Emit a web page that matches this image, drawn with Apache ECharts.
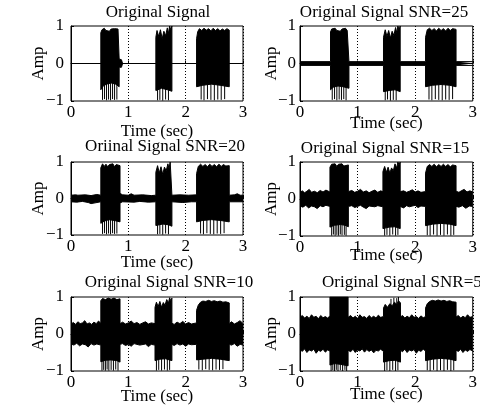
<!DOCTYPE html>
<html><head><meta charset="utf-8">
<script src="https://cdn.jsdelivr.net/npm/echarts@6/dist/echarts.min.js"></script>
<style>html,body{margin:0;padding:0;background:#fff}#c{width:480px;height:406px}</style>
</head><body><div id="c"></div>
<script>
const xTicks = [0, 1, 2, 3];
const yTicks = [-1, 0, 1];
const titles = ["Original Signal", "Original Signal SNR=25", "Oriinal Signal SNR=20", "Original Signal SNR=15", "Original Signal SNR=10", "Original Signal SNR=5"];
const xName = "Time (sec)";
const yName = "Amp";

// Panel 1: clean signal (upper / lower envelope, bottom spikes)
const upper1 = [[0,0],[0.52,0],[0.52,0.82],[0.54,0.9],[0.56,0.86],[0.58,0.94],[0.61,0.88],[0.64,0.93],[0.67,0.86],[0.70,0.92],[0.73,0.87],[0.76,0.93],[0.79,0.88],[0.82,0.92],[0.84,0.9],[0.84,0.12],[0.88,0.1],[0.9,0],[1.48,0],[1.48,0.7],[1.5,0.88],[1.53,0.72],[1.56,0.9],[1.59,0.66],[1.62,0.86],[1.65,0.74],[1.68,0.95],[1.7,0.8],[1.72,1.0],[1.74,0.9],[1.76,1.0],[1.76,0],[2.19,0],[2.19,0.66],[2.21,0.85],[2.24,0.93],[2.28,0.88],[2.32,0.94],[2.36,0.89],[2.40,0.93],[2.44,0.87],[2.48,0.94],[2.52,0.88],[2.56,0.93],[2.60,0.87],[2.64,0.92],[2.68,0.88],[2.72,0.93],[2.76,0.89],[2.76,0],[3,0]];
const lower1 = [[0,0],[0.52,0],[0.52,-0.7],[0.56,-0.6],[0.62,-0.55],[0.7,-0.52],[0.78,-0.55],[0.84,-0.62],[0.84,-0.1],[0.88,-0.1],[0.9,0],[1.48,0],[1.48,-0.72],[1.58,-0.66],[1.68,-0.7],[1.76,-0.74],[1.76,0],[2.19,0],[2.19,-0.62],[2.3,-0.58],[2.45,-0.55],[2.6,-0.58],[2.76,-0.62],[2.76,0],[3,0]];
const spikes1 = [[0.55,-0.97],[0.585,-0.95],[0.62,-0.98],[0.655,-0.96],[0.69,-0.98],[0.725,-0.95],[0.76,-0.97],[0.80,-0.96],[1.51,-0.98],[1.55,-0.97],[1.60,-0.99],[1.65,-0.96],[1.70,-0.98],[2.27,-0.96],[2.32,-0.98],[2.38,-0.95],[2.44,-0.97],[2.50,-0.98],[2.56,-0.96],[2.62,-0.97],[2.68,-0.95]];

// Panel 2: SNR=25
const upper2 = [[0,0.05],[0.53,0.05],[0.53,0.84],[0.55,0.92],[0.58,0.87],[0.61,0.94],[0.64,0.88],[0.67,0.93],[0.70,0.86],[0.73,0.92],[0.76,0.88],[0.79,0.94],[0.82,0.88],[0.85,0.92],[0.85,0.05],[1.45,0.05],[1.45,0.7],[1.48,0.9],[1.51,0.72],[1.54,0.88],[1.57,0.68],[1.60,0.86],[1.63,0.75],[1.66,0.96],[1.68,0.82],[1.70,1.0],[1.72,0.9],[1.74,1.0],[1.74,0.05],[2.18,0.05],[2.18,0.7],[2.21,0.9],[2.25,0.94],[2.29,0.88],[2.33,0.93],[2.37,0.87],[2.41,0.94],[2.45,0.88],[2.49,0.93],[2.53,0.87],[2.57,0.94],[2.61,0.88],[2.65,0.93],[2.68,0.88],[2.71,0.91],[2.71,0.05],[3,0.05]];
const lower2 = [[0,-0.05],[0.53,-0.05],[0.53,-0.7],[0.58,-0.63],[0.66,-0.6],[0.75,-0.62],[0.85,-0.66],[0.85,-0.05],[1.45,-0.05],[1.45,-0.75],[1.55,-0.72],[1.65,-0.7],[1.74,-0.75],[1.74,-0.05],[2.18,-0.05],[2.18,-0.62],[2.3,-0.58],[2.45,-0.56],[2.6,-0.58],[2.71,-0.62],[2.71,-0.05],[3,-0.05]];
const spikes2 = [[0.56,-0.97],[0.6,-0.95],[0.64,-0.98],[0.68,-0.96],[0.72,-0.97],[0.76,-0.95],[0.8,-0.98],[1.48,-0.98],[1.52,-0.96],[1.57,-0.99],[1.62,-0.97],[1.67,-0.98],[2.24,-0.96],[2.29,-0.98],[2.35,-0.95],[2.41,-0.97],[2.47,-0.98],[2.53,-0.96],[2.59,-0.97],[2.65,-0.95]];

// Panel 3: SNR=20
const upper3 = [[0,0.09],[0.08,0.1],[0.1,0.14],[0.12,0.09],[0.25,0.1],[0.35,0.08],[0.45,0.11],[0.52,0.09],[0.52,0.84],[0.55,0.95],[0.58,0.88],[0.61,0.94],[0.64,0.87],[0.67,0.93],[0.70,0.88],[0.73,0.95],[0.76,0.87],[0.79,0.93],[0.82,0.88],[0.855,0.9],[0.855,0.14],[0.9,0.1],[1.0,0.09],[1.05,0.13],[1.1,0.09],[1.25,0.1],[1.4,0.08],[1.48,0.09],[1.48,0.72],[1.51,0.9],[1.54,0.7],[1.57,0.87],[1.60,0.66],[1.63,0.86],[1.66,0.76],[1.69,0.95],[1.71,0.82],[1.73,1.0],[1.76,1.0],[1.76,0.09],[1.9,0.1],[2.05,0.09],[2.19,0.1],[2.19,0.68],[2.22,0.88],[2.26,0.94],[2.30,0.88],[2.34,0.93],[2.38,0.87],[2.42,0.94],[2.46,0.88],[2.50,0.93],[2.54,0.87],[2.58,0.94],[2.62,0.88],[2.66,0.93],[2.70,0.89],[2.76,0.9],[2.76,0.09],[2.85,0.1],[2.9,0.13],[2.95,0.09],[3,0.09]];
const lower3 = [[0,-0.09],[0.1,-0.1],[0.2,-0.08],[0.3,-0.11],[0.35,-0.14],[0.38,-0.09],[0.52,-0.09],[0.52,-0.68],[0.58,-0.62],[0.66,-0.58],[0.75,-0.6],[0.855,-0.64],[0.855,-0.12],[0.9,-0.09],[1.1,-0.1],[1.2,-0.08],[1.35,-0.1],[1.48,-0.09],[1.48,-0.74],[1.6,-0.7],[1.7,-0.72],[1.76,-0.76],[1.76,-0.09],[1.95,-0.11],[2.1,-0.09],[2.19,-0.09],[2.19,-0.64],[2.3,-0.6],[2.45,-0.58],[2.6,-0.6],[2.76,-0.64],[2.76,-0.09],[3,-0.09]];
const spikes3 = [[0.55,-0.97],[0.585,-0.95],[0.62,-0.98],[0.655,-0.96],[0.69,-0.98],[0.725,-0.95],[0.76,-0.97],[0.80,-0.96],[1.51,-0.98],[1.55,-0.97],[1.60,-0.99],[1.65,-0.96],[1.70,-0.98],[2.26,-0.96],[2.31,-0.98],[2.37,-0.95],[2.43,-0.97],[2.49,-0.98],[2.55,-0.96],[2.61,-0.97],[2.67,-0.95]];

// Panel 4: SNR=15
const upper4 = [[0,0.18],[0.04,0.22],[0.08,0.17],[0.12,0.21],[0.16,0.26],[0.2,0.18],[0.25,0.21],[0.3,0.17],[0.35,0.23],[0.4,0.19],[0.45,0.24],[0.52,0.19],[0.52,0.86],[0.55,0.94],[0.58,0.9],[0.61,0.95],[0.64,0.88],[0.67,0.94],[0.70,0.9],[0.73,0.95],[0.76,0.89],[0.79,0.94],[0.84,0.92],[0.84,0.2],[0.9,0.23],[0.95,0.18],[1.0,0.21],[1.05,0.26],[1.1,0.19],[1.15,0.22],[1.2,0.17],[1.25,0.21],[1.3,0.24],[1.35,0.18],[1.4,0.22],[1.44,0.2],[1.44,0.74],[1.47,0.88],[1.50,0.72],[1.53,0.86],[1.56,0.7],[1.59,0.84],[1.62,0.76],[1.65,0.95],[1.68,0.84],[1.70,1.0],[1.72,0.92],[1.74,1.0],[1.74,0.2],[1.8,0.22],[1.85,0.18],[1.9,0.21],[1.95,0.25],[2.0,0.19],[2.05,0.22],[2.1,0.18],[2.18,0.2],[2.18,0.7],[2.21,0.88],[2.25,0.93],[2.29,0.88],[2.33,0.94],[2.37,0.87],[2.41,0.93],[2.45,0.88],[2.49,0.94],[2.53,0.88],[2.57,0.93],[2.61,0.87],[2.65,0.92],[2.71,0.9],[2.71,0.21],[2.76,0.18],[2.8,0.22],[2.85,0.26],[2.9,0.19],[2.95,0.22],[3,0.19]];
const lower4 = [[0,-0.19],[0.05,-0.22],[0.1,-0.17],[0.15,-0.24],[0.2,-0.19],[0.25,-0.21],[0.3,-0.26],[0.35,-0.18],[0.4,-0.21],[0.45,-0.17],[0.52,-0.2],[0.52,-0.76],[0.6,-0.71],[0.7,-0.69],[0.78,-0.71],[0.84,-0.75],[0.84,-0.2],[0.9,-0.18],[0.95,-0.23],[1.0,-0.2],[1.05,-0.17],[1.1,-0.22],[1.15,-0.26],[1.2,-0.19],[1.3,-0.21],[1.35,-0.18],[1.44,-0.21],[1.44,-0.8],[1.55,-0.76],[1.65,-0.75],[1.74,-0.8],[1.74,-0.2],[1.8,-0.24],[1.85,-0.18],[1.9,-0.21],[2.0,-0.17],[2.05,-0.23],[2.1,-0.19],[2.18,-0.2],[2.18,-0.72],[2.3,-0.68],[2.45,-0.66],[2.6,-0.68],[2.71,-0.72],[2.71,-0.2],[2.76,-0.22],[2.82,-0.18],[2.88,-0.25],[2.94,-0.19],[3,-0.2]];
const spikes4 = [[0.55,-0.99],[0.58,-0.96],[0.61,-0.99],[0.64,-0.97],[0.67,-0.99],[0.70,-0.96],[0.73,-0.98],[0.77,-0.97],[0.80,-0.99],[1.47,-0.99],[1.51,-0.97],[1.56,-0.99],[1.61,-0.96],[1.66,-0.99],[1.70,-0.97],[2.21,-0.98],[2.26,-0.99],[2.32,-0.96],[2.38,-0.99],[2.44,-0.97],[2.50,-0.99],[2.56,-0.96],[2.62,-0.99],[2.67,-0.97]];

// Panel 5: SNR=10
const upper5 = [[0,0.27],[0.04,0.31],[0.08,0.26],[0.12,0.33],[0.16,0.28],[0.2,0.3],[0.24,0.36],[0.28,0.27],[0.32,0.3],[0.36,0.26],[0.4,0.32],[0.44,0.28],[0.48,0.35],[0.52,0.29],[0.52,0.9],[0.55,0.96],[0.6,0.93],[0.65,0.97],[0.7,0.94],[0.75,0.97],[0.8,0.93],[0.855,0.95],[0.855,0.28],[0.9,0.32],[0.95,0.27],[1.0,0.3],[1.05,0.35],[1.1,0.28],[1.15,0.31],[1.2,0.26],[1.25,0.3],[1.3,0.33],[1.35,0.27],[1.4,0.3],[1.465,0.28],[1.465,0.72],[1.49,0.86],[1.52,0.74],[1.55,0.88],[1.58,0.72],[1.61,0.85],[1.64,0.78],[1.67,0.93],[1.7,0.84],[1.72,0.98],[1.74,0.9],[1.76,0.97],[1.76,0.29],[1.8,0.26],[1.85,0.32],[1.9,0.28],[1.95,0.34],[2.0,0.27],[2.05,0.31],[2.1,0.27],[2.19,0.3],[2.19,0.64],[2.22,0.78],[2.26,0.86],[2.3,0.89],[2.35,0.88],[2.4,0.91],[2.45,0.88],[2.5,0.9],[2.55,0.87],[2.6,0.89],[2.65,0.86],[2.7,0.87],[2.76,0.84],[2.76,0.28],[2.8,0.33],[2.85,0.27],[2.9,0.31],[2.95,0.36],[3,0.28]];
const lower5 = [[0,-0.27],[0.05,-0.3],[0.1,-0.25],[0.15,-0.32],[0.2,-0.27],[0.25,-0.29],[0.3,-0.35],[0.35,-0.26],[0.4,-0.3],[0.45,-0.27],[0.52,-0.3],[0.52,-0.75],[0.6,-0.71],[0.7,-0.7],[0.8,-0.72],[0.855,-0.76],[0.855,-0.28],[0.9,-0.26],[0.95,-0.31],[1.0,-0.28],[1.05,-0.33],[1.1,-0.26],[1.2,-0.3],[1.3,-0.27],[1.35,-0.34],[1.4,-0.28],[1.465,-0.3],[1.465,-0.72],[1.55,-0.68],[1.65,-0.67],[1.76,-0.72],[1.76,-0.28],[1.8,-0.31],[1.85,-0.26],[1.9,-0.3],[1.95,-0.27],[2.0,-0.33],[2.05,-0.27],[2.1,-0.29],[2.19,-0.28],[2.19,-0.7],[2.3,-0.68],[2.45,-0.66],[2.6,-0.68],[2.76,-0.72],[2.76,-0.28],[2.8,-0.3],[2.85,-0.26],[2.9,-0.33],[2.95,-0.28],[3,-0.3]];
const spikes5 = [[0.54,-0.99],[0.57,-0.97],[0.6,-0.99],[0.63,-0.96],[0.66,-0.99],[0.7,-0.97],[0.74,-0.99],[0.78,-0.96],[0.82,-0.99],[1.49,-0.99],[1.53,-0.97],[1.58,-0.99],[1.63,-0.96],[1.68,-0.99],[1.72,-0.97],[2.23,-0.96],[2.29,-0.98],[2.35,-0.95],[2.41,-0.97],[2.47,-0.98],[2.53,-0.96],[2.59,-0.97],[2.65,-0.95]];

// Panel 6: SNR=5
const upper6 = [[0,0.45],[0.04,0.5],[0.08,0.43],[0.12,0.48],[0.16,0.42],[0.2,0.52],[0.24,0.45],[0.28,0.48],[0.32,0.41],[0.36,0.5],[0.4,0.44],[0.44,0.47],[0.48,0.43],[0.52,0.49],[0.52,1.0],[0.835,1.0],[0.835,0.45],[0.88,0.5],[0.92,0.43],[0.96,0.48],[1.0,0.42],[1.04,0.52],[1.08,0.45],[1.12,0.47],[1.16,0.42],[1.2,0.5],[1.24,0.44],[1.28,0.48],[1.32,0.43],[1.36,0.51],[1.4,0.45],[1.45,0.47],[1.45,0.7],[1.48,0.8],[1.52,0.72],[1.56,0.82],[1.6,0.76],[1.64,0.86],[1.68,0.8],[1.71,0.9],[1.745,0.84],[1.745,0.46],[1.78,0.5],[1.82,0.43],[1.86,0.48],[1.9,0.44],[1.94,0.52],[1.98,0.45],[2.02,0.47],[2.06,0.42],[2.1,0.49],[2.14,0.44],[2.18,0.47],[2.18,0.7],[2.21,0.82],[2.25,0.88],[2.3,0.91],[2.35,0.89],[2.4,0.92],[2.45,0.89],[2.5,0.91],[2.55,0.88],[2.6,0.9],[2.65,0.87],[2.71,0.86],[2.71,0.46],[2.75,0.5],[2.79,0.43],[2.83,0.48],[2.87,0.44],[2.91,0.52],[2.95,0.45],[3,0.47]];
const lower6 = [[0,-0.42],[0.04,-0.47],[0.08,-0.4],[0.12,-0.5],[0.16,-0.43],[0.2,-0.46],[0.24,-0.41],[0.28,-0.52],[0.32,-0.44],[0.36,-0.47],[0.4,-0.41],[0.44,-0.49],[0.48,-0.43],[0.52,-0.46],[0.52,-0.84],[0.6,-0.8],[0.7,-0.82],[0.835,-0.86],[0.835,-0.44],[0.88,-0.48],[0.92,-0.41],[0.96,-0.5],[1.0,-0.43],[1.04,-0.46],[1.08,-0.4],[1.12,-0.49],[1.16,-0.42],[1.2,-0.47],[1.24,-0.43],[1.28,-0.51],[1.32,-0.44],[1.36,-0.46],[1.4,-0.41],[1.45,-0.47],[1.45,-0.76],[1.55,-0.72],[1.65,-0.71],[1.745,-0.76],[1.745,-0.44],[1.78,-0.48],[1.82,-0.41],[1.86,-0.5],[1.9,-0.43],[1.94,-0.46],[1.98,-0.42],[2.02,-0.52],[2.06,-0.44],[2.1,-0.47],[2.14,-0.41],[2.18,-0.46],[2.18,-0.72],[2.3,-0.68],[2.45,-0.66],[2.6,-0.68],[2.71,-0.72],[2.71,-0.44],[2.75,-0.47],[2.79,-0.41],[2.83,-0.5],[2.87,-0.43],[2.91,-0.47],[2.95,-0.42],[3,-0.46]];
const spikes6 = [[0.54,-1],[0.57,-0.98],[0.6,-1],[0.63,-0.97],[0.66,-1],[0.7,-0.98],[0.74,-1],[0.78,-0.97],[0.81,-1],[1.47,-1],[1.51,-0.98],[1.56,-1],[1.61,-0.97],[1.66,-1],[1.7,-0.98],[1.58,0.95],[1.63,0.98],[1.68,0.97],[1.71,1.0],[2.21,-0.98],[2.26,-1],[2.32,-0.97],[2.38,-1],[2.44,-0.98],[2.5,-1],[2.56,-0.97],[2.62,-1],[2.67,-0.98]];

const uppers = [upper1, upper2, upper3, upper4, upper5, upper6];
const lowers = [lower1, lower2, lower3, lower4, lower5, lower6];
const spikes = [spikes1, spikes2, spikes3, spikes4, spikes5, spikes6];

// Layout (pixels)
const gridBoxes = [
  {left: 71, top: 26, width: 172, height: 75},
  {left: 300, top: 26, width: 176, height: 75},
  {left: 71, top: 162, width: 172, height: 73},
  {left: 300, top: 162, width: 176, height: 74},
  {left: 71, top: 297, width: 172, height: 74},
  {left: 300, top: 297, width: 176, height: 74}
];
const xNameGaps = [22, 14, 19, 11, 17, 15];
const yNameGaps = [24, 20, 24, 20, 24, 20];
const yLabelMargins = [7, 4, 7, 4, 7, 4];
const titlePos = [
  {x: 158, y: 13, align: 'center'},
  {x: 384, y: 13, align: 'center'},
  {x: 165, y: 147, align: 'center'},
  {x: 385, y: 149, align: 'center'},
  {x: 169, y: 283, align: 'center'},
  {x: 322, y: 283, align: 'left'}
];

const FONT = "'Liberation Serif', 'Times New Roman', serif";
const grids = [], xAxes = [], yAxes = [], series = [], graphics = [];
for (let i = 0; i < 6; i++) {
  grids.push(Object.assign({show: true, borderColor: '#000', borderWidth: 1, backgroundColor: '#fff'}, gridBoxes[i]));
  xAxes.push({
    type: 'value', gridIndex: i, min: xTicks[0], max: xTicks[xTicks.length - 1], interval: 1,
    name: xName, nameLocation: 'middle', nameGap: xNameGaps[i], nameMoveOverlap: false,
    nameTextStyle: {fontFamily: FONT, fontSize: 17, color: '#000'},
    axisLine: {show: true, lineStyle: {color: '#000', width: 1}},
    axisTick: {show: true, inside: true, length: 3, lineStyle: {color: '#000'}},
    axisLabel: {fontFamily: FONT, fontSize: 17, color: '#000', margin: 3},
    splitLine: {show: true, lineStyle: {color: '#000', type: [1, 2], width: 1}}
  });
  yAxes.push({
    type: 'value', gridIndex: i, min: yTicks[0], max: yTicks[yTicks.length - 1], interval: 1,
    name: yName, nameLocation: 'middle', nameGap: yNameGaps[i], nameMoveOverlap: false,
    nameTextStyle: {fontFamily: FONT, fontSize: 17, color: '#000'},
    axisLine: {show: true, lineStyle: {color: '#000', width: 1}},
    axisTick: {show: true, inside: true, length: 3, lineStyle: {color: '#000'}},
    axisLabel: {fontFamily: FONT, fontSize: 17, color: '#000', margin: yLabelMargins[i],
      formatter: v => v < 0 ? '\u2212' + Math.abs(v) : String(v)},
    splitLine: {show: false}
  });
  [uppers[i], lowers[i]].forEach(d => {
    series.push({
      type: 'line', xAxisIndex: i, yAxisIndex: i, data: d, showSymbol: false, symbol: 'none',
      lineStyle: {color: '#000', width: 1}, areaStyle: {color: '#000', opacity: 1},
      clip: true, animation: false, silent: true
    });
  });
  series.push({
    type: 'custom', xAxisIndex: i, yAxisIndex: i, data: spikes[i], clip: true, animation: false, silent: true,
    encode: {x: 0, y: 1},
    renderItem: (params, api) => {
      const p0 = api.coord([api.value(0), 0]);
      const p1 = api.coord([api.value(0), api.value(1)]);
      return {type: 'line', shape: {x1: p0[0], y1: p0[1], x2: p1[0], y2: p1[1]}, style: {stroke: '#000', lineWidth: 1}};
    }
  });
  graphics.push({
    type: 'text', x: titlePos[i].x, y: titlePos[i].y,
    style: {text: titles[i], fontFamily: FONT, fontSize: 17, fill: '#000', textAlign: titlePos[i].align, textVerticalAlign: 'middle'}
  });
}

const chart = echarts.init(document.getElementById('c'), null, {renderer: 'canvas'});
chart.setOption({
  backgroundColor: '#fff', animation: false,
  grid: grids, xAxis: xAxes, yAxis: yAxes, series: series, graphic: graphics
});
</script></body></html>
